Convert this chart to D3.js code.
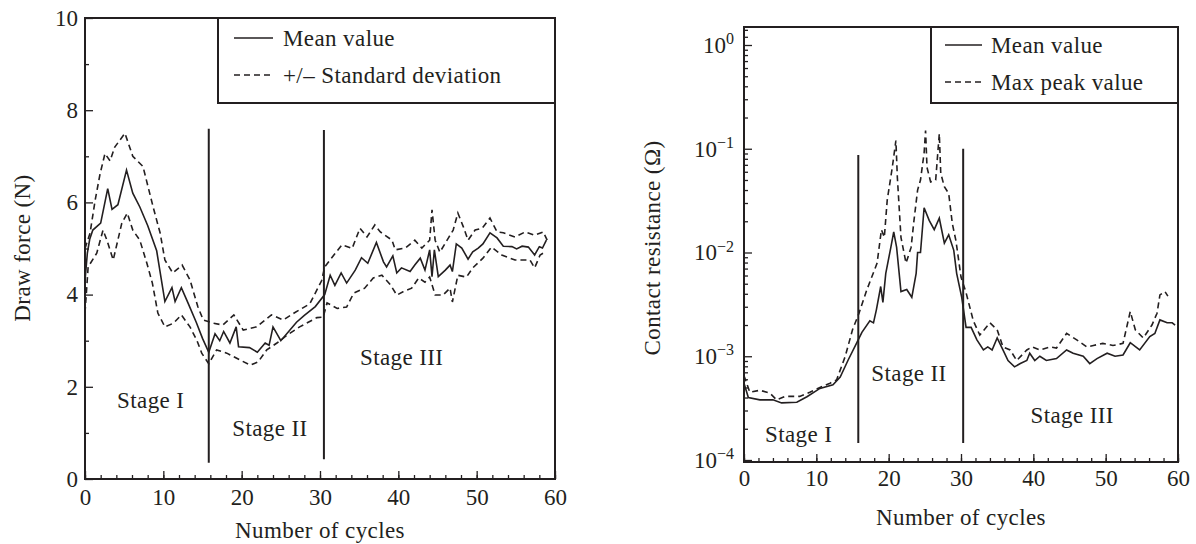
<!DOCTYPE html>
<html>
<head>
<meta charset="utf-8">
<script src="https://cdn.jsdelivr.net/npm/d3@7"></script>
<style>
  body { margin: 0; background: #fff; }
  svg text { font-family: "Liberation Serif", "DejaVu Serif", serif; fill: #231f20; }
  .lbl { font-size: 23px; letter-spacing: 0.4px; }
</style>
</head>
<body>
<svg id="chart" width="1196" height="544"></svg>
<script>
// ---- data ----
// draw force (N) against cycle number
const forceMean = [[0,4.3],[0.3,4.9],[0.6,5.2],[1,5.4],[2,5.55],[2.9,6.3],[3.45,5.85],[4.2,5.95],[5.3,6.7],[6.1,6.2],[7,5.9],[8,5.5],[9.15,4.95],[10.2,3.85],[11.1,4.15],[11.5,3.85],[12.3,4.15],[13.2,3.8],[14.2,3.4],[15,3.05],[15.8,2.75],[16.6,3.15],[17.2,3.0],[17.7,3.2],[18.5,2.95],[19.3,3.3],[19.6,2.87],[21,2.85],[22,2.75],[23,2.95],[23.5,2.9],[24,3.3],[25,3.0],[26,3.2],[27,3.4],[28,3.55],[29.4,3.74],[30.6,4.0],[31.3,4.42],[31.9,4.2],[32.7,4.47],[33.4,4.25],[34.5,4.53],[35.3,4.8],[36.1,4.68],[37.2,5.13],[38.1,4.71],[38.5,4.6],[39.3,4.84],[39.8,4.47],[40.4,4.58],[41.5,4.5],[42.1,4.64],[42.8,4.79],[43.4,4.53],[44.0,4.97],[44.3,4.39],[44.6,4.97],[45.1,4.39],[46.0,4.53],[46.6,4.64],[46.9,4.5],[47.4,5.1],[48.1,5.01],[48.9,4.77],[49.5,4.93],[50.2,5.01],[50.8,5.1],[51.7,5.34],[52.6,5.23],[53.4,5.05],[54.5,5.04],[55.1,4.99],[55.8,5.05],[56.6,5.03],[57.4,4.86],[58.0,5.04],[58.4,5.01],[58.9,5.18]];
const forceUpper = [[0,5.0],[0.64,5.33],[1.3,6.05],[1.9,6.6],[2.55,7.06],[3.2,6.9],[3.8,7.2],[5.1,7.5],[6.1,7.0],[7.4,6.78],[8.7,5.9],[9.6,5.33],[10.2,4.75],[11.2,4.47],[12.4,4.64],[13.4,4.32],[14.4,3.74],[15.1,3.45],[16.4,3.38],[17.6,3.34],[19,3.56],[20.2,3.23],[21.9,3.3],[23.8,3.56],[25.3,3.45],[26.7,3.6],[28.7,3.8],[30.2,4.3],[30.6,4.6],[31.5,4.8],[32.8,5.08],[34.1,5.0],[35.1,5.44],[36,5.25],[37,5.51],[37.7,5.36],[39.2,5.18],[39.6,4.97],[40.9,5.01],[42.1,5.18],[43,5.01],[44,5.18],[44.3,5.84],[44.7,5.18],[45.3,4.92],[46.4,5.23],[47,5.4],[47.6,5.77],[48.3,5.47],[48.9,5.18],[49.8,5.4],[50.7,5.44],[51.7,5.66],[52.6,5.36],[53.4,5.34],[54.9,5.25],[56.2,5.36],[57.4,5.29],[58.5,5.36],[59,5.18]];
const forceLower = [[0,3.6],[0.4,4.6],[1.5,4.9],[2.3,5.4],[2.8,5.18],[3.6,4.75],[4.7,5.55],[5.4,5.77],[6.1,5.4],[7,5.18],[7.9,4.68],[8.6,4.25],[9.3,3.6],[10.2,3.3],[11.3,3.38],[12.3,3.56],[13.4,3.3],[14.3,3.0],[14.9,2.73],[15.8,2.5],[16.8,2.8],[18.1,2.73],[19.8,2.58],[21.1,2.47],[22.1,2.54],[23.2,2.8],[24.5,2.95],[25.8,3.12],[27.4,3.3],[29.6,3.5],[30.4,3.51],[30.9,3.82],[32.2,3.7],[33.4,3.73],[34.3,4.03],[35.7,4.14],[36.8,4.36],[37.9,4.42],[39,4.21],[39.8,3.99],[40.6,4.06],[41.7,4.14],[42.6,4.36],[43.4,4.27],[44,4.38],[44.7,3.99],[45.7,3.99],[46.6,4.14],[46.9,3.84],[47.6,4.42],[48.7,4.38],[49.5,4.58],[50.8,4.79],[51.9,5.03],[53.2,4.86],[54.9,4.75],[56.8,4.75],[57.4,4.58],[58.1,4.86],[58.7,4.92]];

// contact resistance (ohm) against cycle number
const resMean = [[0,5.5e-4],[0.6,4.0e-4],[2.2,3.8e-4],[4,3.8e-4],[5.2,3.55e-4],[7.3,3.6e-4],[8.7,4.07e-4],[10.5,4.9e-4],[12.3,5.3e-4],[13.3,6.3e-4],[14.4,9.2e-4],[15.6,1.35e-3],[16.3,1.7e-3],[17.4,2.2e-3],[17.9,2.1e-3],[18.3,2.8e-3],[18.9,4.7e-3],[19.2,3.3e-3],[19.6,6.3e-3],[20.3,0.0112],[20.7,0.0158],[21.1,0.0112],[21.7,4.2e-3],[22.5,4.4e-3],[23.2,3.7e-3],[23.8,6.3e-3],[24,0.01],[24.4,0.01],[24.9,0.027],[25.6,0.0204],[26.3,0.0166],[27,0.0214],[27.7,0.0123],[28.3,0.0148],[29,0.0105],[29.4,6.3e-3],[30.1,3.7e-3],[30.7,1.9e-3],[31.4,1.9e-3],[32.2,1.44e-3],[33.1,1.15e-3],[33.7,1.23e-3],[34.3,1.15e-3],[35,1.5e-3],[35.8,1.15e-3],[36.5,9.1e-4],[37.4,7.9e-4],[38.2,8.5e-4],[39.1,9.1e-4],[39.5,1.07e-3],[40.2,9.1e-4],[40.9,1e-3],[41.8,9.1e-4],[43.2,9.5e-4],[44.6,1.15e-3],[45.5,1.07e-3],[46.9,1e-3],[47.8,8.5e-4],[48.8,9.5e-4],[50.2,1.07e-3],[51.3,1e-3],[52.4,1.03e-3],[53.4,1.35e-3],[54.7,1.15e-3],[56.1,1.55e-3],[56.8,1.66e-3],[57.5,2.24e-3],[58.5,2.1e-3],[59.2,2.1e-3],[59.6,2.0e-3]];
const resPeak = [[0,6.5e-4],[0.8,4.5e-4],[2.2,4.7e-4],[3.6,4.4e-4],[4.5,3.8e-4],[5.7,4.1e-4],[7.7,4.1e-4],[9.1,4.5e-4],[10.5,5e-4],[11.9,5.5e-4],[12.8,5.9e-4],[14,1e-3],[15,1.8e-3],[15.9,2.6e-3],[17,4.4e-3],[18.4,7.9e-3],[19,0.0166],[19.4,0.014],[19.8,0.032],[20.5,0.066],[21,0.12],[21.2,0.053],[21.7,0.014],[22.4,7.9e-3],[23.1,0.0112],[23.5,0.0204],[24,0.04],[24.4,0.05],[24.9,0.091],[25.1,0.15],[25.3,0.066],[25.8,0.048],[26.5,0.05],[27,0.14],[27.2,0.058],[27.7,0.043],[28.3,0.037],[28.8,0.019],[29.3,0.013],[30,5.8e-3],[30.7,4.1e-3],[31.7,2.2e-3],[32.6,1.6e-3],[34,2.1e-3],[35,1.8e-3],[35.8,1.23e-3],[36.8,1.15e-3],[37.7,9.1e-4],[39.1,1.15e-3],[39.8,1.23e-3],[40.9,1.15e-3],[42.3,1.23e-3],[43.2,1.2e-3],[44.6,1.66e-3],[46,1.44e-3],[47.4,1.23e-3],[48.3,1.27e-3],[49.6,1.33e-3],[51,1.27e-3],[52.4,1.33e-3],[53.4,2.7e-3],[54.1,1.8e-3],[55.2,1.5e-3],[56.4,2e-3],[57.1,2.6e-3],[57.5,3.9e-3],[58.2,4.2e-3],[58.6,3.8e-3]];

// stage boundaries: [cycle, bottom value, top value]
const forceStages = [[15.8, 0.35, 7.6], [30.5, 0.43, 7.57]];
const resStages = [[15.8, 1.46e-4, 0.087], [30.3, 1.46e-4, 0.1]];

// tick values and labels
const cycleTicks = [0, 10, 20, 30, 40, 50, 60];
const forceTicks = [0, 2, 4, 6, 8, 10];
const resExponents = [-4, -3, -2, -1, 0];
const stageNames = ['Stage I', 'Stage II', 'Stage III'];
const forceLegend = ['Mean value', '+/\u2013 Standard deviation'];
const resLegend = ['Mean value', 'Max peak value'];

const svg = d3.select('#chart');
const ink = '#231f20';
const dash = '6,4';

// ---------- left panel: draw force ----------
const xL = d3.scaleLinear().domain([0, 60]).range([85, 555]);
const yL = d3.scaleLinear().domain([0, 10]).range([479, 18]);
const left = svg.append('g');

// minor ticks
left.append('g').attr('transform', 'translate(0,479)')
    .call(d3.axisBottom(xL).tickValues(d3.range(0, 61, 2)).tickSize(-4).tickFormat(''));
left.append('g').attr('transform', 'translate(85,0)')
    .call(d3.axisLeft(yL).tickValues(d3.range(1, 10, 2)).tickSize(-4).tickFormat(''));
// major ticks
left.append('g').attr('transform', 'translate(0,479)')
    .call(d3.axisBottom(xL).tickValues(cycleTicks).tickSize(-8).tickPadding(10).tickFormat(d3.format('d')));
left.append('g').attr('transform', 'translate(85,0)')
    .call(d3.axisLeft(yL).tickValues(forceTicks).tickSize(-8).tickPadding(7).tickFormat(d3.format('d')));

left.selectAll('.domain').remove();
left.selectAll('.tick line').attr('stroke', ink).attr('stroke-width', 1.3);
left.selectAll('.tick text').style('font-size', '23px').attr('fill', ink);

left.append('rect').attr('x', 85).attr('y', 18).attr('width', 470).attr('height', 461)
    .attr('fill', 'none').attr('stroke', ink).attr('stroke-width', 2);

const lineL = d3.line().x(d => xL(d[0])).y(d => yL(d[1]));
left.append('path').datum(forceUpper).attr('d', lineL)
    .attr('fill', 'none').attr('stroke', ink).attr('stroke-width', 1.6).attr('stroke-dasharray', dash);
left.append('path').datum(forceLower).attr('d', lineL)
    .attr('fill', 'none').attr('stroke', ink).attr('stroke-width', 1.6).attr('stroke-dasharray', dash);
left.append('path').datum(forceMean).attr('d', lineL)
    .attr('fill', 'none').attr('stroke', ink).attr('stroke-width', 1.6);

left.selectAll('.stage').data(forceStages).enter().append('line')
    .attr('x1', d => xL(d[0])).attr('x2', d => xL(d[0]))
    .attr('y1', d => yL(d[1])).attr('y2', d => yL(d[2]))
    .attr('stroke', ink).attr('stroke-width', 2);

// stage names: [cycle, value] where the text starts
const forceStagePos = [[4.1, 1.71], [18.8, 1.1], [35.1, 2.65]];
left.selectAll('.stagename').data(stageNames).enter().append('text')
    .attr('class', 'lbl')
    .attr('x', (d, i) => xL(forceStagePos[i][0]))
    .attr('y', (d, i) => yL(forceStagePos[i][1]))
    .attr('dy', '0.35em').text(d => d);

// legend
left.append('rect').attr('x', 218).attr('y', 18).attr('width', 337).attr('height', 85)
    .attr('fill', '#fff').attr('stroke', ink).attr('stroke-width', 2);
forceLegend.forEach((t, i) => {
    const y = i === 0 ? 38 : 75;
    left.append('line').attr('x1', 234).attr('x2', 273).attr('y1', y).attr('y2', y)
        .attr('stroke', ink).attr('stroke-width', 1.6)
        .attr('stroke-dasharray', i === 0 ? null : dash);
    left.append('text').attr('class', 'lbl').attr('x', 283).attr('y', y).attr('dy', '0.35em').text(t);
});

left.append('text').attr('class', 'lbl').attr('transform', 'translate(22,248) rotate(-90)')
    .attr('text-anchor', 'middle').attr('dy', '0.35em').text('Draw force (N)');
left.append('text').attr('class', 'lbl').attr('x', 320).attr('y', 530).attr('text-anchor', 'middle')
    .attr('dy', '0.35em').text('Number of cycles');

// ---------- right panel: contact resistance ----------
const xR = d3.scaleLinear().domain([0, 60]).range([744, 1178]);
const yR = d3.scaleLog().domain([1e-4, 1]).range([460, 45]);
const right = svg.append('g');

const minorLog = [];
resExponents.slice(0, -1).forEach(e => {
    for (let m = 2; m <= 9; m++) minorLog.push(m * Math.pow(10, e));
});
minorLog.push(1.2, 1.4);

right.append('g').attr('transform', 'translate(0,462)')
    .call(d3.axisBottom(xR).tickValues(d3.range(0, 61, 2)).tickSize(-4).tickFormat(''));
right.append('g').attr('transform', 'translate(744,0)')
    .call(d3.axisLeft(yR).tickValues(minorLog).tickSize(-4).tickFormat(''));
right.append('g').attr('transform', 'translate(0,462)')
    .call(d3.axisBottom(xR).tickValues(cycleTicks).tickSize(-8).tickPadding(8).tickFormat(d3.format('d')));
const yAxisR = right.append('g').attr('transform', 'translate(744,0)')
    .call(d3.axisLeft(yR).tickValues(resExponents.map(e => Math.pow(10, e))).tickSize(-8).tickPadding(10).tickFormat(''));

right.selectAll('.domain').remove();
right.selectAll('.tick line').attr('stroke', ink).attr('stroke-width', 1.3);
right.selectAll('.tick text').style('font-size', '23px').attr('fill', ink);

// power-of-ten labels with superscript
yAxisR.selectAll('.tick').each(function(d) {
    const e = Math.round(Math.log10(d));
    const t = d3.select(this).select('text').text(null);
    t.append('tspan').text('10');
    t.append('tspan').attr('dy', '-0.55em').style('font-size', '16px')
        .text(e === 0 ? '0' : '\u2212' + Math.abs(e));
});

right.append('rect').attr('x', 744).attr('y', 27).attr('width', 434).attr('height', 435)
    .attr('fill', 'none').attr('stroke', ink).attr('stroke-width', 2);

const lineR = d3.line().x(d => xR(d[0])).y(d => yR(d[1]));
right.append('path').datum(resPeak).attr('d', lineR)
    .attr('fill', 'none').attr('stroke', ink).attr('stroke-width', 1.6).attr('stroke-dasharray', dash);
right.append('path').datum(resMean).attr('d', lineR)
    .attr('fill', 'none').attr('stroke', ink).attr('stroke-width', 1.6);

right.selectAll('.stage').data(resStages).enter().append('line')
    .attr('x1', d => xR(d[0])).attr('x2', d => xR(d[0]))
    .attr('y1', d => yR(d[1])).attr('y2', d => yR(d[2]))
    .attr('stroke', ink).attr('stroke-width', 2);

const resStagePos = [[2.9, 1.8e-4], [17.6, 6.9e-4], [39.6, 2.7e-4]];
right.selectAll('.stagename').data(stageNames).enter().append('text')
    .attr('class', 'lbl')
    .attr('x', (d, i) => xR(resStagePos[i][0]))
    .attr('y', (d, i) => yR(resStagePos[i][1]))
    .attr('dy', '0.35em').text(d => d);

right.append('rect').attr('x', 931).attr('y', 27).attr('width', 247).attr('height', 76)
    .attr('fill', '#fff').attr('stroke', ink).attr('stroke-width', 2);
resLegend.forEach((t, i) => {
    const y = i === 0 ? 45 : 82;
    right.append('line').attr('x1', 945).attr('x2', 982).attr('y1', y).attr('y2', y)
        .attr('stroke', ink).attr('stroke-width', 1.6)
        .attr('stroke-dasharray', i === 0 ? null : dash);
    right.append('text').attr('class', 'lbl').attr('x', 991).attr('y', y).attr('dy', '0.35em').text(t);
});

right.append('text').attr('class', 'lbl').attr('transform', 'translate(652,248) rotate(-90)')
    .attr('text-anchor', 'middle').attr('dy', '0.35em').text('Contact resistance (\u03a9)');
right.append('text').attr('class', 'lbl').attr('x', 961).attr('y', 517).attr('text-anchor', 'middle')
    .attr('dy', '0.35em').text('Number of cycles');
</script>
</body>
</html>
